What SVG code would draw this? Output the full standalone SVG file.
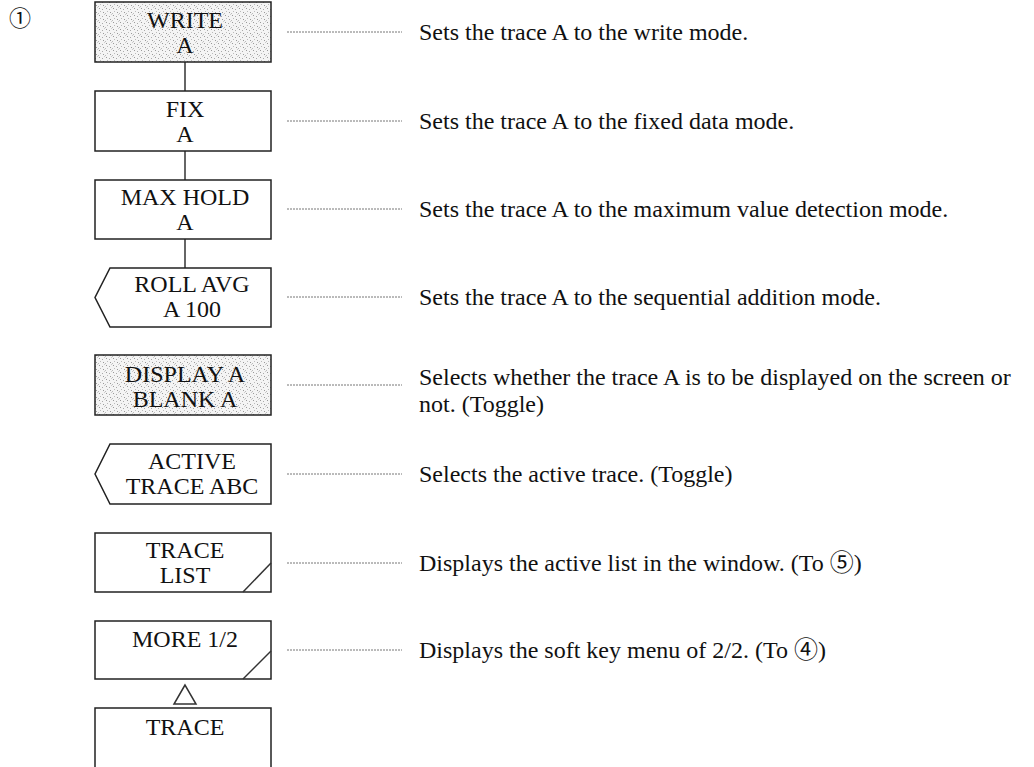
<svg xmlns="http://www.w3.org/2000/svg" width="1034" height="767" viewBox="0 0 1034 767">
<defs>
<pattern id="stipple" width="7" height="7" patternUnits="userSpaceOnUse">
<rect width="7" height="7" fill="#f4f4f4"/>
<rect x="1" y="1" width="1" height="1" fill="#999"/>
<rect x="4" y="2" width="1" height="1" fill="#aaa"/>
<rect x="2" y="4" width="1" height="1" fill="#bbb"/>
<rect x="5" y="5" width="1" height="1" fill="#999"/>
<rect x="6" y="0" width="1" height="1" fill="#ccc"/>
<rect x="0" y="6" width="1" height="1" fill="#bbb"/>
</pattern>
</defs>
<style>
.box{fill:#fff;stroke:#222;stroke-width:1.5}
.shade{fill:url(#stipple);stroke:#222;stroke-width:1.5}
.k{font-family:"Liberation Serif","Noto Sans CJK JP",serif;font-size:24px;fill:#111;text-anchor:middle}
.d{font-family:"Liberation Serif","Noto Sans CJK JP",serif;font-size:24px;fill:#111}
.lead{stroke:#777;stroke-width:1;stroke-dasharray:2 1}
.con{stroke:#333;stroke-width:1.5;fill:none}
</style>
<rect width="1034" height="767" fill="#fff"/>
<text x="20" y="26" class="k" style="font-family:'Noto Sans CJK JP',sans-serif;font-size:22px">①</text>

<g id="connectors">
<line class="con" x1="185" y1="62" x2="185" y2="91"/>
<line class="con" x1="185" y1="151" x2="185" y2="180"/>
<line class="con" x1="185" y1="239" x2="185" y2="268"/>
<polygon class="con" points="185,685 174,704 196,704"/>
<line class="lead" x1="287" y1="32" x2="402" y2="32"/>
<line class="lead" x1="287" y1="121" x2="402" y2="121"/>
<line class="lead" x1="287" y1="209" x2="402" y2="209"/>
<line class="lead" x1="287" y1="297" x2="402" y2="297"/>
<line class="lead" x1="287" y1="385" x2="402" y2="385"/>
<line class="lead" x1="287" y1="474" x2="402" y2="474"/>
<line class="lead" x1="287" y1="563" x2="402" y2="563"/>
<line class="lead" x1="287" y1="650" x2="402" y2="650"/>
</g>

<g id="write">
<rect class="shade" x="95" y="2" width="176" height="60"/>
<text class="k" x="185" y="28">WRITE</text>
<text class="k" x="185" y="53">A</text>
<text class="d" x="419" y="40">Sets the trace A to the write mode.</text>
</g>

<g id="fix">
<rect class="box" x="95" y="91" width="176" height="60"/>
<text class="k" x="185" y="117">FIX</text>
<text class="k" x="185" y="142">A</text>
<text class="d" x="419" y="129">Sets the trace A to the fixed data mode.</text>
</g>

<g id="maxhold">
<rect class="box" x="95" y="180" width="176" height="59"/>
<text class="k" x="185" y="205">MAX HOLD</text>
<text class="k" x="185" y="230">A</text>
<text class="d" x="419" y="217">Sets the trace A to the maximum value detection mode.</text>
</g>

<g id="rollavg">
<polygon class="box" points="110,268 271,268 271,327 110,327 95,297.5"/>
<text class="k" x="192" y="292">ROLL AVG</text>
<text class="k" x="192" y="317">A 100</text>
<text class="d" x="419" y="305">Sets the trace A to the sequential addition mode.</text>
</g>

<g id="display">
<rect class="shade" x="95" y="355" width="176" height="60"/>
<text class="k" x="185" y="382">DISPLAY A</text>
<text class="k" x="185" y="407">BLANK A</text>
<text class="d" x="419" y="385">Selects whether the trace A is to be displayed on the screen or</text>
<text class="d" x="419" y="412">not. (Toggle)</text>
</g>

<g id="active">
<polygon class="box" points="110,444 271,444 271,504 110,504 95,474"/>
<text class="k" x="192" y="469">ACTIVE</text>
<text class="k" x="192" y="494">TRACE ABC</text>
<text class="d" x="419" y="482">Selects the active trace. (Toggle)</text>
</g>

<g id="tracelist">
<rect class="box" x="95" y="533" width="176" height="59"/>
<line class="con" x1="243" y1="592" x2="271" y2="563"/>
<text class="k" x="185" y="558">TRACE</text>
<text class="k" x="185" y="583">LIST</text>
<text class="d" x="419" y="571">Displays the active list in the window. (To ⑤)</text>
</g>

<g id="more">
<rect class="box" x="95" y="621" width="176" height="58"/>
<line class="con" x1="243" y1="679" x2="271" y2="651"/>
<text class="k" x="185" y="647">MORE 1/2</text>
<text class="d" x="419" y="658">Displays the soft key menu of 2/2. (To ④)</text>
</g>

<g id="trace">
<rect class="box" x="95" y="708" width="176" height="70"/>
<text class="k" x="185" y="735">TRACE</text>
</g>
</svg>
